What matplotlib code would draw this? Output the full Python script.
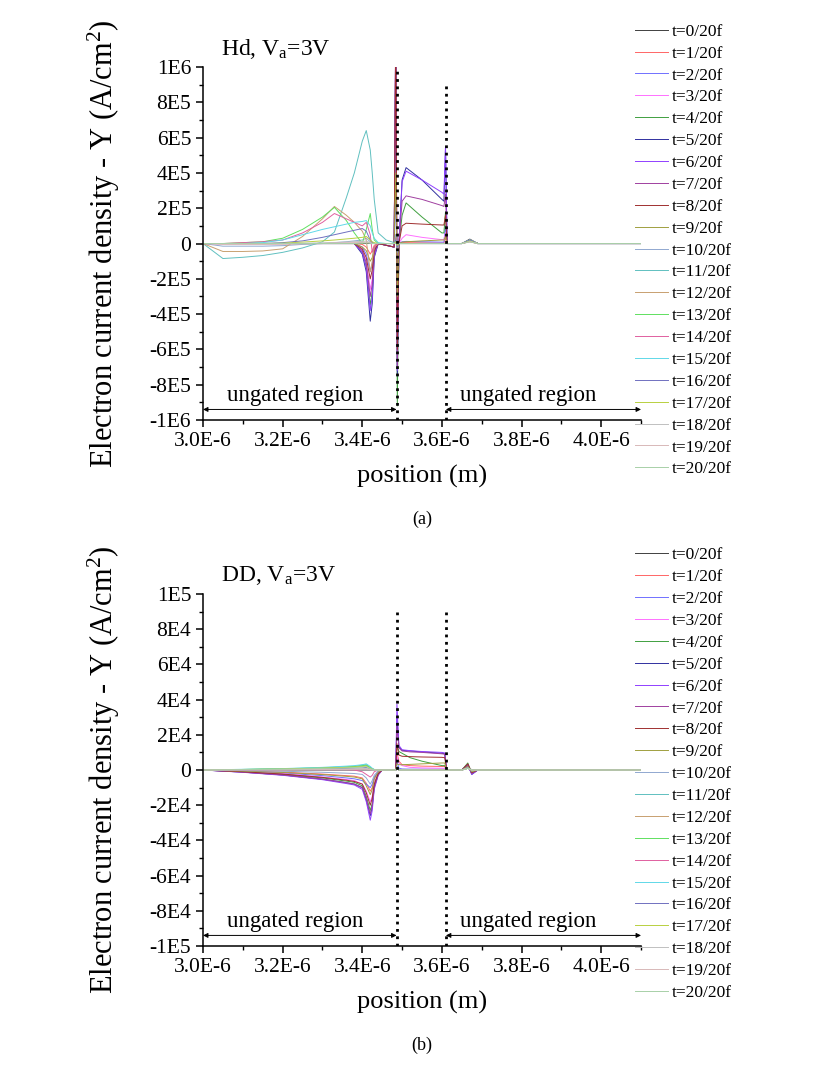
import numpy as np
import matplotlib
matplotlib.use('Agg')
import matplotlib.pyplot as plt
from matplotlib.ticker import MultipleLocator, FuncFormatter

plt.rcParams['font.family'] = ['Liberation Serif', 'DejaVu Serif']
plt.rcParams['mathtext.fontset'] = 'custom'
plt.rcParams['mathtext.rm'] = 'Liberation Serif'
plt.rcParams['mathtext.it'] = 'Liberation Serif:italic'

labels = ['t=%d/20f' % i for i in range(21)]
colors = ['#404040', '#ff6666', '#7070ff', '#ff70ff', '#40a040', '#3030a0', '#9040ff',
          '#a040a0', '#a03030', '#a0a040', '#90a8d0', '#60c0c0', '#c8a070', '#60e060',
          '#e060a0', '#60d8e8', '#7070c0', '#b8d040', '#c0c0c0', '#d8b8b8', '#a8d0a8']

# ---- (a) Hd : position in um, current in 1E5 A/cm2
hd_x = [3.00, 3.05, 3.10, 3.15, 3.20, 3.25, 3.30, 3.33, 3.36, 3.38, 3.40, 3.41, 3.42, 3.425,
        3.43, 3.44, 3.46, 3.48, 3.484, 3.488, 3.492, 3.50, 3.51, 3.55, 3.60, 3.605, 3.609,
        3.613, 3.65, 3.67, 3.69, 3.75, 4.10]
hd_y = [
    [0, 0, 0, 0, 0, 0, 0, 0, 0, 0, 0, 0, 0, 0, 0, 0, 0, 0, 0, 0, 0, 0, 0, 0, 0, 0, 0, 0, 0, 0.25, 0, 0, 0],
    [0, 0, 0, 0, 0, 0, 0, 0, 0, 0, -0.05, -0.2, -0.6, -0.4, -0.1, 0, 0, 0, 0.5, -0.5, 0, 0.05, 0.05, 0.04, 0.03, 0.03, 0.3, 0, 0, 0.1, 0, 0, 0],
    [0, 0, 0, 0, 0, 0, 0, 0, 0, 0, -0.2, -0.6, -1.6, -1.2, -0.3, 0, 0, 0, 3, -3, 0, 0.1, 0.12, 0.1, 0.08, 0.08, 1.0, 0, 0, 0.15, 0, 0, 0],
    [0, 0, 0, 0, 0, 0, 0, 0, 0, 0, -0.4, -1.0, -2.6, -2.0, -0.5, 0, -0.1, -0.2, 12, -6, 0, 0.3, 0.5, 0.35, 0.22, 0.22, 0.6, 0, 0, 0.15, 0, 0, 0],
    [0, 0, 0, 0, 0, 0, 0, 0, 0, 0, -0.5, -1.3, -3.5, -2.7, -0.6, 0, -0.1, -0.2, 11, -9.2, 0, 1.6, 2.3, 1.5, 0.6, 0.6, 1.8, 0, 0, 0.15, 0, 0, 0],
    [0, 0, 0, 0, 0, 0, 0, 0, 0, 0, -0.6, -1.6, -4.4, -3.4, -0.8, 0, -0.1, -0.2, 12, -7.5, 0, 3.6, 4.3, 3.6, 2.5, 2.4, 5.4, 0, 0, 0.15, 0, 0, 0],
    [0, 0, 0, 0, 0, 0, 0, 0, 0, 0, -0.5, -1.4, -3.8, -3.0, -0.7, 0, -0.1, -0.2, 12, -7.2, 0, 3.5, 4.1, 3.6, 2.9, 2.8, 5.5, 0, 0, 0.15, 0, 0, 0],
    [0, 0, 0, 0, 0, 0, 0, 0, 0, 0, -0.4, -1.1, -3.0, -2.3, -0.5, 0, -0.1, -0.2, 12, -7, 0, 2.4, 2.7, 2.5, 2.15, 2.1, 2.8, 0, 0, 0.15, 0, 0, 0],
    [0, 0, 0, 0, 0, 0, 0, 0, 0, 0, -0.3, -0.8, -2.0, -1.5, -0.4, 0, -0.1, -0.2, 12, -6, 0, 1.0, 1.15, 1.1, 1.05, 1.05, 1.6, 0, 0, 0.15, 0, 0, 0],
    [0, 0, 0, 0, 0, 0, 0, 0, 0, 0, -0.2, -0.4, -1.0, -0.8, -0.2, 0, 0, 0, 4, -3, 0, 0.08, 0.1, 0.15, 0.2, 0.2, 0.4, 0, 0, 0.15, 0, 0, 0],
    [0, -0.15, -0.15, -0.15, -0.12, -0.05, 0, 0.05, 0.1, 0.15, 0.2, 0.3, 0.1, 0, 0, 0, 0, 0, 0.5, -0.5, 0, 0, 0, 0, 0, 0, 0, 0, 0, 0.2, 0, 0, 0],
    [0, -0.85, -0.78, -0.68, -0.5, -0.25, 0.1, 0.65, 2.6, 4.0, 5.8, 6.4, 5.3, 4.0, 2.5, 0.6, 0.2, 0.05, 0.3, -0.3, 0, 0, 0, 0, 0, 0, 0, 0, 0, 0.2, 0, 0, 0],
    [0, -0.45, -0.45, -0.42, -0.3, 0.4, 1.4, 2.1, 1.6, 1.2, 0.7, 0.2, -1.6, -1.0, -0.2, 0, 0, 0, 0.3, -0.3, 0, 0, 0, 0, 0, 0, 0, 0, 0, 0.2, 0, 0, 0],
    [0, 0, 0.05, 0.1, 0.3, 0.8, 1.5, 2.05, 1.3, 0.6, 0.0, 0.8, 1.7, 0.8, 0.2, 0, 0, 0, 0.3, -0.3, 0, 0, 0, 0, 0, 0, 0, 0, 0, 0.2, 0, 0, 0],
    [0, 0, 0.05, 0.1, 0.2, 0.6, 1.2, 1.7, 1.4, 1.2, 1.0, 1.2, 0.5, -0.5, -0.2, 0, 0, 0, 0.3, -0.3, 0, 0, 0, 0, 0, 0, 0, 0, 0, 0.2, 0, 0, 0],
    [0, 0, 0, 0.05, 0.2, 0.5, 0.8, 0.95, 1.1, 1.2, 1.25, 1.3, 1.0, 0.6, 0.3, 0.05, 0, 0, 0.2, -0.2, 0, 0, 0, 0, 0, 0, 0, 0, 0, 0.2, 0, 0, 0],
    [0, 0, 0, 0, 0.05, 0.15, 0.35, 0.5, 0.65, 0.75, 0.85, 0.7, 0.2, 0.05, 0, 0, 0, 0, 0.2, -0.2, 0, 0, 0, 0, 0, 0, 0, 0, 0, 0.2, 0, 0, 0],
    [0, 0, 0, 0, 0.02, 0.08, 0.15, 0.2, 0.26, 0.3, 0.35, 0.4, 0.2, 0.1, 0.05, 0, 0, 0, 0.1, -0.1, 0, 0, 0, 0, 0, 0, 0, 0, 0, 0.15, 0, 0, 0],
    [0, 0, 0, 0, 0, 0.02, 0.04, 0.06, 0.08, 0.1, 0.12, 0.14, 0.05, 0, 0, 0, 0, 0, 0, 0, 0, 0, 0, 0, 0, 0, 0, 0, 0, 0.1, 0, 0, 0],
    [0, -0.05, -0.05, -0.05, -0.04, -0.02, 0, 0.02, 0.04, 0.05, 0.06, 0.08, 0.03, 0, 0, 0, 0, 0, 0, 0, 0, 0, 0, 0, 0, 0, 0, 0, 0, 0.1, 0, 0, 0],
    [0, 0, 0, 0, 0, 0, 0, 0, 0, 0, 0.02, 0.03, 0.02, 0, 0, 0, 0, 0, 0, 0, 0, 0, 0, 0, 0, 0, 0, 0, 0, 0.1, 0, 0, 0],
]

# ---- (b) DD : position in um, current in 1E4 A/cm2
dd_x = [3.00, 3.10, 3.20, 3.30, 3.36, 3.38, 3.40, 3.41, 3.42, 3.425, 3.43, 3.44, 3.45, 3.48,
        3.484, 3.487, 3.492, 3.50, 3.52, 3.55, 3.60, 3.607, 3.612, 3.65, 3.665, 3.675, 3.69,
        3.75, 4.10]
dd_y = [
    [0, 0, 0, 0, 0, 0, 0, 0, 0, 0, 0, 0, 0, 0, 0, 0.2, 0, 0, 0, 0, 0, 0, 0, 0, 0.2, 0, 0, 0, 0],
    [0, -0.05, -0.12, -0.23, -0.32, -0.35, -0.45, -0.75, -1.2, -1.0, -0.5, -0.1, 0, 0, 0, 1.0, 0.5, 0.3, 0.25, 0.22, 0.2, 0.2, 0, 0, 0.3, -0.1, 0, 0, 0],
    [0, -0.07, -0.17, -0.32, -0.45, -0.5, -0.6, -0.8, -1.0, -0.8, -0.4, -0.1, 0, 0, 0, 0.5, 0.1, 0.06, 0.05, 0.05, 0.05, 0.05, 0, 0, 0.2, -0.15, 0, 0, 0],
    [0, -0.09, -0.2, -0.4, -0.54, -0.6, -0.8, -1.2, -1.8, -1.5, -0.7, -0.15, 0, 0, 0, 0.8, 0.4, 0.25, 0.15, 0.12, 0.1, 0.1, 0, 0, 0.3, -0.2, 0, 0, 0],
    [0, -0.1, -0.25, -0.45, -0.63, -0.7, -0.9, -1.5, -2.3, -1.9, -0.9, -0.2, 0, 0, 0, 1.4, 1.05, 0.95, 0.7, 0.5, 0.25, 0.25, 0, 0, 0.4, -0.2, 0, 0, 0],
    [0, -0.12, -0.28, -0.52, -0.72, -0.8, -1.0, -1.7, -2.6, -2.1, -1.0, -0.25, 0, 0, 0, 3.0, 1.3, 1.12, 1.08, 1.03, 0.95, 0.92, 0, 0, 0.3, -0.25, 0, 0, 0],
    [0, -0.13, -0.3, -0.55, -0.77, -0.85, -1.1, -1.8, -2.85, -2.3, -1.1, -0.3, 0, 0, 0, 3.75, 1.4, 1.15, 1.1, 1.05, 1.0, 0.97, 0, 0, 0.3, -0.25, 0, 0, 0],
    [0, -0.12, -0.28, -0.52, -0.72, -0.8, -1.0, -1.6, -2.5, -2.0, -0.95, -0.25, 0, 0, 0, 2.5, 1.25, 1.08, 1.03, 1.0, 0.92, 0.9, 0, 0, 0.25, -0.2, 0, 0, 0],
    [0, -0.1, -0.23, -0.42, -0.58, -0.65, -0.8, -1.3, -2.0, -1.6, -0.8, -0.2, 0, 0, 0, 1.5, 0.85, 0.78, 0.76, 0.74, 0.72, 0.7, 0, 0, 0.35, -0.15, 0, 0, 0],
    [0, -0.06, -0.14, -0.26, -0.36, -0.4, -0.5, -0.9, -1.4, -1.1, -0.5, -0.1, 0, 0, 0, 0.35, 0.3, 0.3, 0.32, 0.35, 0.4, 0.4, 0, 0, 0.2, -0.1, 0, 0, 0],
    [0, -0.03, -0.07, -0.13, -0.18, -0.2, -0.25, -0.45, -0.8, -0.6, -0.3, -0.05, 0, 0, 0, 0.2, 0.05, 0.02, 0.02, 0.02, 0.02, 0.02, 0, 0, 0.15, -0.05, 0, 0, 0],
    [0, 0.03, 0.06, 0.12, 0.17, 0.2, 0.28, 0.3, 0.15, 0.08, 0.03, 0, 0, 0, 0, 0.1, 0, 0, 0, 0, 0, 0, 0, 0, 0.1, 0, 0, 0, 0],
    [0, 0.02, 0.05, 0.1, 0.14, 0.15, 0.22, 0.25, 0.12, 0.05, 0.02, 0, 0, 0, 0, 0.1, 0, 0, 0, 0, 0, 0, 0, 0, 0.1, 0, 0, 0, 0],
    [0, 0.03, 0.07, 0.13, 0.18, 0.2, 0.25, 0.28, 0.12, 0.06, 0.02, 0, 0, 0, 0, 0.1, 0, 0, 0, 0, 0, 0, 0, 0, 0.1, 0, 0, 0, 0],
    [0, 0.01, 0.02, 0.02, 0.02, 0.0, -0.1, -0.25, -0.4, -0.3, -0.1, 0, 0, 0, 0, 0.1, 0, 0, 0, 0, 0, 0, 0, 0, 0.1, 0, 0, 0, 0],
    [0, 0.04, 0.08, 0.15, 0.22, 0.25, 0.3, 0.35, 0.2, 0.1, 0.03, 0, 0, 0, 0, 0.1, 0, 0, 0, 0, 0, 0, 0, 0, 0.1, 0, 0, 0, 0],
    [0, 0.01, 0.03, 0.06, 0.09, 0.1, 0.12, 0.14, 0.06, 0.02, 0, 0, 0, 0, 0, 0.1, 0, 0, 0, 0, 0, 0, 0, 0, 0.1, 0, 0, 0, 0],
    [0, 0.03, 0.06, 0.11, 0.15, 0.17, 0.2, 0.22, 0.1, 0.05, 0.02, 0, 0, 0, 0, 0.1, 0, 0, 0, 0, 0, 0, 0, 0, 0.1, 0, 0, 0, 0],
    [0, 0.01, 0.02, 0.04, 0.06, 0.07, 0.08, 0.09, 0.04, 0.02, 0, 0, 0, 0, 0, 0.1, 0, 0, 0, 0, 0, 0, 0, 0, 0.1, 0, 0, 0, 0],
    [0, 0.005, 0.01, 0.02, 0.03, 0.04, 0.05, 0.05, 0.02, 0, 0, 0, 0, 0, 0, 0.1, 0, 0, 0, 0, 0, 0, 0, 0, 0.1, 0, 0, 0, 0],
    [0, 0.02, 0.05, 0.09, 0.12, 0.14, 0.17, 0.19, 0.08, 0.04, 0.01, 0, 0, 0, 0, 0.1, 0, 0, 0, 0, 0, 0, 0, 0, 0.1, 0, 0, 0, 0],
]

gate_left = 3.486   # um
gate_right = 3.61   # um


def yfmt(v, pos):
    if abs(v) < 1e-9:
        return '0'
    e = int(np.floor(np.log10(abs(v)) + 1e-9))
    m = int(round(v / 10 ** e))
    return '%dE%d' % (m, e)


def xfmt(v, pos):
    return '%.1fE-6' % (v * 1e6)


def draw_panel(ax, xs, ys, unit, title, full_left, tag):
    x = np.array(xs) * 1e-6
    for i in range(21):
        ax.plot(x, np.array(ys[i]) * unit, color=colors[i], lw=0.7, label=labels[i])
    top = 10 * unit
    ax.set_xlim(3.0e-6, 4.1e-6)
    ax.set_ylim(-top, top)
    # gate edges
    y0 = top if full_left else 0.9 * top
    ax.plot([gate_left * 1e-6] * 2, [-top, y0], color='black', ls=':', lw=2, zorder=30)
    ax.plot([gate_right * 1e-6] * 2, [-top, 0.9 * top], color='black', ls=':', lw=2, zorder=30)
    # ungated arrows
    ya = -0.94 * top
    arr = dict(arrowstyle='<|-|>', color='black', lw=0.7, mutation_scale=7, shrinkA=0, shrinkB=0)
    ax.annotate('', xy=(3.0e-6, ya), xytext=(gate_left * 1e-6, ya), arrowprops=arr)
    ax.annotate('', xy=(gate_right * 1e-6, ya), xytext=(4.1e-6, ya), arrowprops=arr)
    ax.text(3.231e-6, -0.86 * top, 'ungated region', ha='center', va='center', fontsize=16.5)
    ax.text(3.816e-6, -0.86 * top, 'ungated region', ha='center', va='center', fontsize=16.5)

    ax.text(0.04, 1.052, title, transform=ax.transAxes, fontsize=17, va='center', ha='left')

    for s in ['top', 'right']:
        ax.spines[s].set_visible(False)
    for s in ['left', 'bottom']:
        ax.spines[s].set_linewidth(1.1)
    ax.xaxis.set_major_locator(MultipleLocator(0.2e-6))
    ax.xaxis.set_minor_locator(MultipleLocator(0.1e-6))
    ax.yaxis.set_major_locator(MultipleLocator(2 * unit))
    ax.yaxis.set_minor_locator(MultipleLocator(unit))
    ax.xaxis.set_major_formatter(FuncFormatter(xfmt))
    ax.yaxis.set_major_formatter(FuncFormatter(yfmt))
    ax.tick_params(which='major', length=5, width=1.1, labelsize=15.5, direction='out')
    ax.tick_params(which='minor', length=3, width=1.0, direction='out')
    ax.set_xlabel('position (m)', fontsize=19)
    ax.set_ylabel('Electron current density - Y (A/cm$^2$)', fontsize=22)
    ax.xaxis.set_label_coords(0.5, -0.128)
    ax.yaxis.set_label_coords(-0.185, 0.5)
    ax.text(0.5, -0.282, tag, transform=ax.transAxes, ha='center', va='center', fontsize=13)


fig = plt.figure(figsize=(8.3, 10.74), dpi=100)
ax1 = fig.add_axes([0.2446, 0.6089, 0.5277, 0.3287])
ax2 = fig.add_axes([0.2446, 0.1192, 0.5277, 0.3277])

draw_panel(ax1, hd_x, hd_y, 1e5, 'Hd, V$_{\\mathrm{a}}$=3V', True, '(a)')
draw_panel(ax2, dd_x, dd_y, 1e4, 'DD, V$_{\\mathrm{a}}$=3V', False, '(b)')

for ax, ytop in [(ax1, 0.978), (ax2, 0.4905)]:
    ax.legend(loc='upper left', bbox_to_anchor=(0.765, ytop), bbox_transform=fig.transFigure,
              frameon=False, fontsize=12.5, handlelength=1.9, handletextpad=0.25,
              labelspacing=0.33, borderpad=0, borderaxespad=0)

fig.savefig('out.png', dpi=100)
